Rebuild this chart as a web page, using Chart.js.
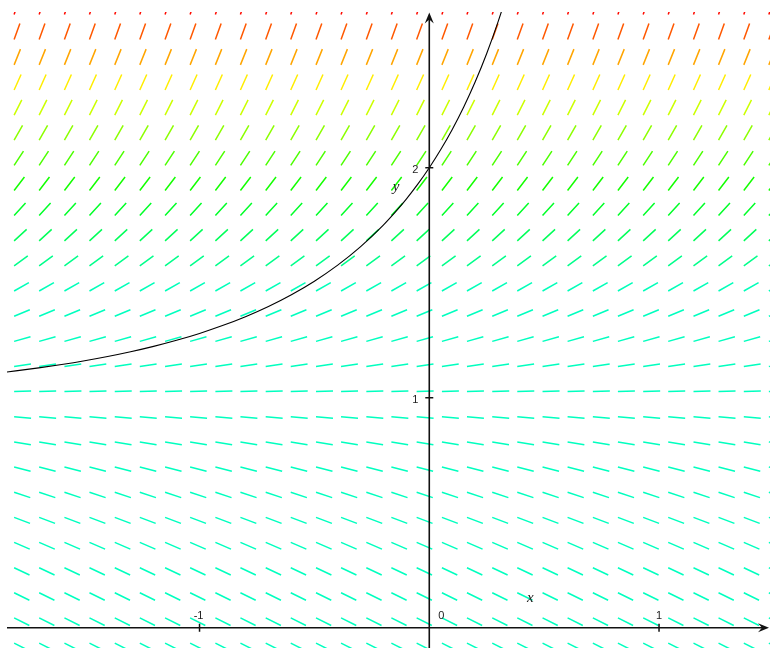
<!DOCTYPE html>
<html>
<head>
<meta charset="utf-8">
<script src="https://cdn.jsdelivr.net/npm/chart.js@4/dist/chart.umd.min.js"></script>
<style>
  html, body { margin: 0; padding: 0; background: #ffffff; }
  #wrap { width: 770px; height: 648px; }
</style>
</head>
<body>
<div id="wrap"><canvas id="c" width="770" height="648"></canvas></div>
<script>
// Slope field of dy/dx = (y^2 - 1)/2 with the solution through (0, 2)
const gridX = [-1.807, -1.698, -1.588, -1.479, -1.369, -1.260, -1.150, -1.041, -0.931, -0.822,
               -0.712, -0.603, -0.493, -0.384, -0.274, -0.165, -0.055, 0.055, 0.164, 0.274,
               0.383, 0.493, 0.602, 0.712, 0.821, 0.931, 1.040, 1.150, 1.259, 1.369, 1.478];
const gridY = [-0.067, 0.043, 0.152, 0.261, 0.371, 0.480, 0.589, 0.699, 0.808, 0.917,
               1.027, 1.136, 1.245, 1.354, 1.464, 1.573, 1.682, 1.792, 1.901, 2.010,
               2.120, 2.229, 2.338, 2.447, 2.557, 2.666];
const rowSlopes = [-0.50, -0.50, -0.49, -0.47, -0.43, -0.38, -0.33, -0.26, -0.17, -0.08,
                   0.03, 0.15, 0.28, 0.42, 0.57, 0.74, 0.92, 1.10, 1.31, 1.52,
                   1.75, 1.98, 2.23, 2.49, 2.77, 3.05];
const curveX = [-1.9, -1.8, -1.7, -1.6, -1.5, -1.4, -1.3, -1.2, -1.1, -1.0, -0.9, -0.8, -0.7,
                -0.6, -0.5, -0.4, -0.3, -0.2, -0.15, -0.1, -0.05, 0.0, 0.05, 0.1, 0.15, 0.2,
                0.25, 0.3, 0.35, 0.4];
const curveY = [1.1050, 1.1166, 1.1297, 1.1443, 1.1607, 1.1791, 1.1998, 1.2232, 1.2496, 1.2795,
                1.3136, 1.3523, 1.3967, 1.4478, 1.5068, 1.5754, 1.6558, 1.7507, 1.8047, 1.8637,
                1.9286, 2.0, 2.0790, 2.1666, 2.2641, 2.3734, 2.4965, 2.6361, 2.7953, 2.9783];
const xTicks = [-1, 1];
const xTickLabels = ['-1', '1'];
const yTicks = [1, 2];
const yTickLabels = ['1', '2'];

const X_MIN = -1.838, X_MAX = 1.483, Y_MIN = -0.088, Y_MAX = 2.677;
const SEG_LEN = 0.074; // segment length in axis units

function hueFor(s) {
  let h = 165 - 65 * (Math.abs(s) - 0.55);
  return Math.max(0, Math.min(165, h));
}

const datasets = [];
datasets.push({
  label: 'solution',
  data: curveX.map((x, i) => ({ x: x, y: curveY[i] })),
  borderColor: '#000000',
  borderWidth: 1.1,
  pointRadius: 0,
  showLine: true,
  cubicInterpolationMode: 'monotone',
  fill: false
});
gridY.forEach((y0, j) => {
  const s = rowSlopes[j];
  const dx = SEG_LEN / Math.sqrt(1 + s * s);
  const dy = s * dx;
  const pts = [];
  gridX.forEach(x0 => {
    pts.push({ x: x0, y: y0 });
    pts.push({ x: x0 + dx, y: y0 + dy });
    pts.push({ x: x0 + dx, y: null });
  });
  datasets.push({
    label: 'row' + j,
    data: pts,
    borderColor: 'hsl(' + hueFor(s).toFixed(1) + ',100%,50%)',
    borderWidth: 1.5,
    pointRadius: 0,
    showLine: true,
    spanGaps: false,
    tension: 0,
    fill: false
  });
});

const axesPlugin = {
  id: 'axesPlugin',
  afterDatasetsDraw(chart) {
    const ctx = chart.ctx;
    const xs = chart.scales.x, ys = chart.scales.y;
    const area = chart.chartArea;
    const ox = xs.getPixelForValue(0), oy = ys.getPixelForValue(0);
    ctx.save();
    ctx.strokeStyle = '#111111';
    ctx.fillStyle = '#111111';
    ctx.lineWidth = 1.6;
    // x axis
    ctx.beginPath();
    ctx.moveTo(area.left, oy);
    ctx.lineTo(area.right - 4, oy);
    ctx.stroke();
    // y axis
    ctx.beginPath();
    ctx.moveTo(ox, area.bottom);
    ctx.lineTo(ox, area.top + 4);
    ctx.stroke();
    // arrowheads
    function arrow(tx, ty, dirx, diry) {
      const len = 11, half = 4.5, back = 7;
      const px = -diry, py = dirx;
      ctx.beginPath();
      ctx.moveTo(tx, ty);
      ctx.lineTo(tx - dirx * len + px * half, ty - diry * len + py * half);
      ctx.lineTo(tx - dirx * back, ty - diry * back);
      ctx.lineTo(tx - dirx * len - px * half, ty - diry * len - py * half);
      ctx.closePath();
      ctx.fill();
    }
    arrow(area.right - 1, oy, 1, 0);
    arrow(ox, area.top + 0.5, 0, -1);
    // ticks
    ctx.lineWidth = 1.5;
    xTicks.forEach(v => {
      const px = xs.getPixelForValue(v);
      ctx.beginPath();
      ctx.moveTo(px, oy - 4);
      ctx.lineTo(px, oy + 4);
      ctx.stroke();
    });
    yTicks.forEach(v => {
      const py = ys.getPixelForValue(v);
      ctx.beginPath();
      ctx.moveTo(ox - 4, py);
      ctx.lineTo(ox + 4, py);
      ctx.stroke();
    });
    // tick labels
    ctx.fillStyle = '#222222';
    ctx.font = '11px "Liberation Sans", Arial, sans-serif';
    ctx.textBaseline = 'alphabetic';
    ctx.textAlign = 'center';
    xTicks.forEach((v, i) => {
      const px = xs.getPixelForValue(v);
      ctx.fillText(xTickLabels[i], px - (xTickLabels[i].length > 1 ? 1 : 0), oy - 9);
    });
    ctx.textAlign = 'left';
    ctx.fillText('0', ox + 9, oy - 9);
    ctx.textAlign = 'right';
    yTicks.forEach((v, i) => {
      const py = ys.getPixelForValue(v);
      ctx.fillText(yTickLabels[i], ox - 11, py + 5);
    });
    // axis names
    ctx.font = 'italic 15px "Liberation Serif", "Times New Roman", serif';
    ctx.textAlign = 'center';
    ctx.fillText('x', xs.getPixelForValue(0.44), ys.getPixelForValue(0.11));
    ctx.fillText('y', xs.getPixelForValue(-0.145), ys.getPixelForValue(1.9));
    ctx.restore();
  }
};

new Chart(document.getElementById('c'), {
  type: 'scatter',
  data: { datasets: datasets },
  options: {
    responsive: false,
    animation: false,
    devicePixelRatio: 1,
    layout: { padding: { left: 7, top: 12, right: 0, bottom: 0 } },
    scales: {
      x: { type: 'linear', min: X_MIN, max: X_MAX, display: false },
      y: { type: 'linear', min: Y_MIN, max: Y_MAX, display: false }
    },
    plugins: { legend: { display: false }, tooltip: { enabled: false } },
    elements: { line: { capBezierPoints: true } }
  },
  plugins: [axesPlugin]
});
</script>
</body>
</html>
